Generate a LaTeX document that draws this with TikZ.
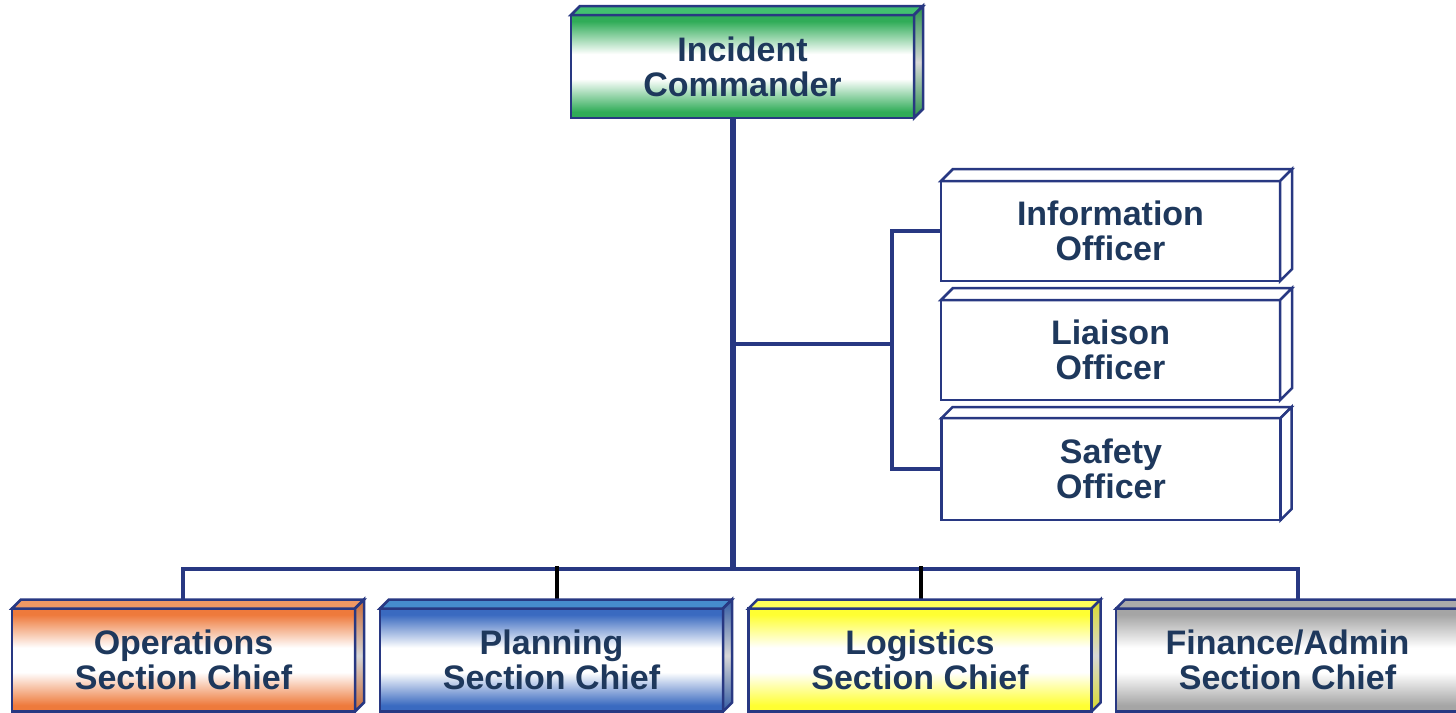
\documentclass[tikz,border=0pt]{standalone}
\usepackage{fontspec}
\setmainfont{Liberation Sans}
\usetikzlibrary{calc}
\definecolor{navy}{RGB}{40,56,130}
\definecolor{txt}{RGB}{30,56,92}
\definecolor{gEdge}{RGB}{48,172,88}
\definecolor{gTop}{RGB}{66,192,112}
\definecolor{oEdge}{RGB}{238,122,60}
\definecolor{oTop}{RGB}{240,152,100}
\definecolor{bEdge}{RGB}{58,106,192}
\definecolor{bTop}{RGB}{70,140,205}
\definecolor{yEdge}{RGB}{255,255,50}
\definecolor{yTop}{RGB}{255,255,90}
\definecolor{kEdge}{RGB}{165,165,165}
\definecolor{kTop}{RGB}{170,170,170}
\definecolor{sideMid}{RGB}{215,215,215}
\newcommand\mkshades[2]{%
  \pgfdeclareverticalshading{#1front}{100bp}{color(0bp)=(#2); color(25bp)=(#2); color(28bp)=(#2); color(44bp)=(white); color(56bp)=(white); color(72bp)=(#2); color(75bp)=(#2); color(100bp)=(#2)}%
  \pgfdeclareverticalshading{#1side}{100bp}{color(0bp)=(#2!85!black); color(25bp)=(#2!85!black); color(50bp)=(sideMid); color(75bp)=(#2!85!black); color(100bp)=(#2!85!black)}}
\mkshades{g}{gEdge}
\mkshades{o}{oEdge}
\mkshades{b}{bEdge}
\mkshades{y}{yEdge}
\mkshades{k}{kEdge}
\pgfdeclarelayer{bg}
\pgfsetlayers{bg,main}
\newcommand\faces[4]{%
  \draw[face, fill=#2] (#1.north west) -- ++(#4,-#4) -- ($(#1.north east)+(#4,-#4)$) -- (#1.north east) -- cycle;
  \draw[face, #3] (#1.north east) -- ++(#4,-#4) -- ($(#1.south east)+(#4,-#4)$) -- (#1.south east) -- cycle;}
\begin{document}
\begin{tikzpicture}[x=1pt,y=-1pt,
  front/.style={draw=navy, line width=2.5pt, outer sep=0pt, minimum width=343pt, minimum height=103pt, inner sep=0pt, align=center, text=txt, font=\fontsize{34}{35}\selectfont\bfseries},
  chief/.style={front, shade, shading=#1front},
  officer/.style={front, fill=white, minimum width=339pt, minimum height=100pt},
  face/.style={draw=navy, line width=2.5pt},
  trunk/.style={draw=navy, line width=6.5pt},
  link/.style={draw=navy, line width=4pt},
  drop/.style={draw=black, line width=4pt}]
\useasboundingbox (0,0) rectangle (1456,712);
\clip (0,0) rectangle (1456,712);
\coordinate (bus) at (733,569);
\coordinate (br) at (892,344);
\coordinate (dOps) at (183,569);
\coordinate (dPlan) at (557,566);
\coordinate (dLog) at (921,566);
\coordinate (dFin) at (1298,569);
% nodes
\node[chief=g] (IC) at (742.5,66.5) {Incident\\Commander};
\faces{IC}{gTop}{shade, shading=gside}{9}
\node[officer] (Info) at (1110.5,231) {Information\\Officer};
\faces{Info}{white}{fill=white}{12}
\node[officer] (Liaison) at (1110.5,350) {Liaison\\Officer};
\faces{Liaison}{white}{fill=white}{12}
\node[officer, minimum height=102pt] (Safety) at (1111,469) {Safety\\Officer};
\faces{Safety}{white}{fill=white}{11}
\node[chief=o] (Ops) at (183.5,660) {Operations\\Section Chief};
\faces{Ops}{oTop}{shade, shading=oside}{9}
\node[chief=b] (Plan) at (551.5,660) {Planning\\Section Chief};
\faces{Plan}{bTop}{shade, shading=bside}{9}
\node[chief=y] (Log) at (920,660) {Logistics\\Section Chief};
\faces{Log}{yTop}{shade, shading=yside}{9}
\node[chief=k] (Fin) at (1287.5,660) {Finance/Admin\\Section Chief};
\faces{Fin}{kTop}{shade, shading=kside}{9}
% connectors
\begin{pgfonlayer}{bg}
\draw[trunk] (IC.south -| bus) -- (bus);
\draw[link] (br -| bus) -- (br);
\draw[link] (Info.west) -| (br) |- (Safety.west);
\draw[link] (dOps |- Ops.north) -- (dOps) -- (dFin) -- (dFin |- Fin.north);
\draw[drop] (dPlan) -- (dPlan |- Plan.north);
\draw[drop] (dLog) -- (dLog |- Log.north);
\end{pgfonlayer}
\end{tikzpicture}
\end{document}
